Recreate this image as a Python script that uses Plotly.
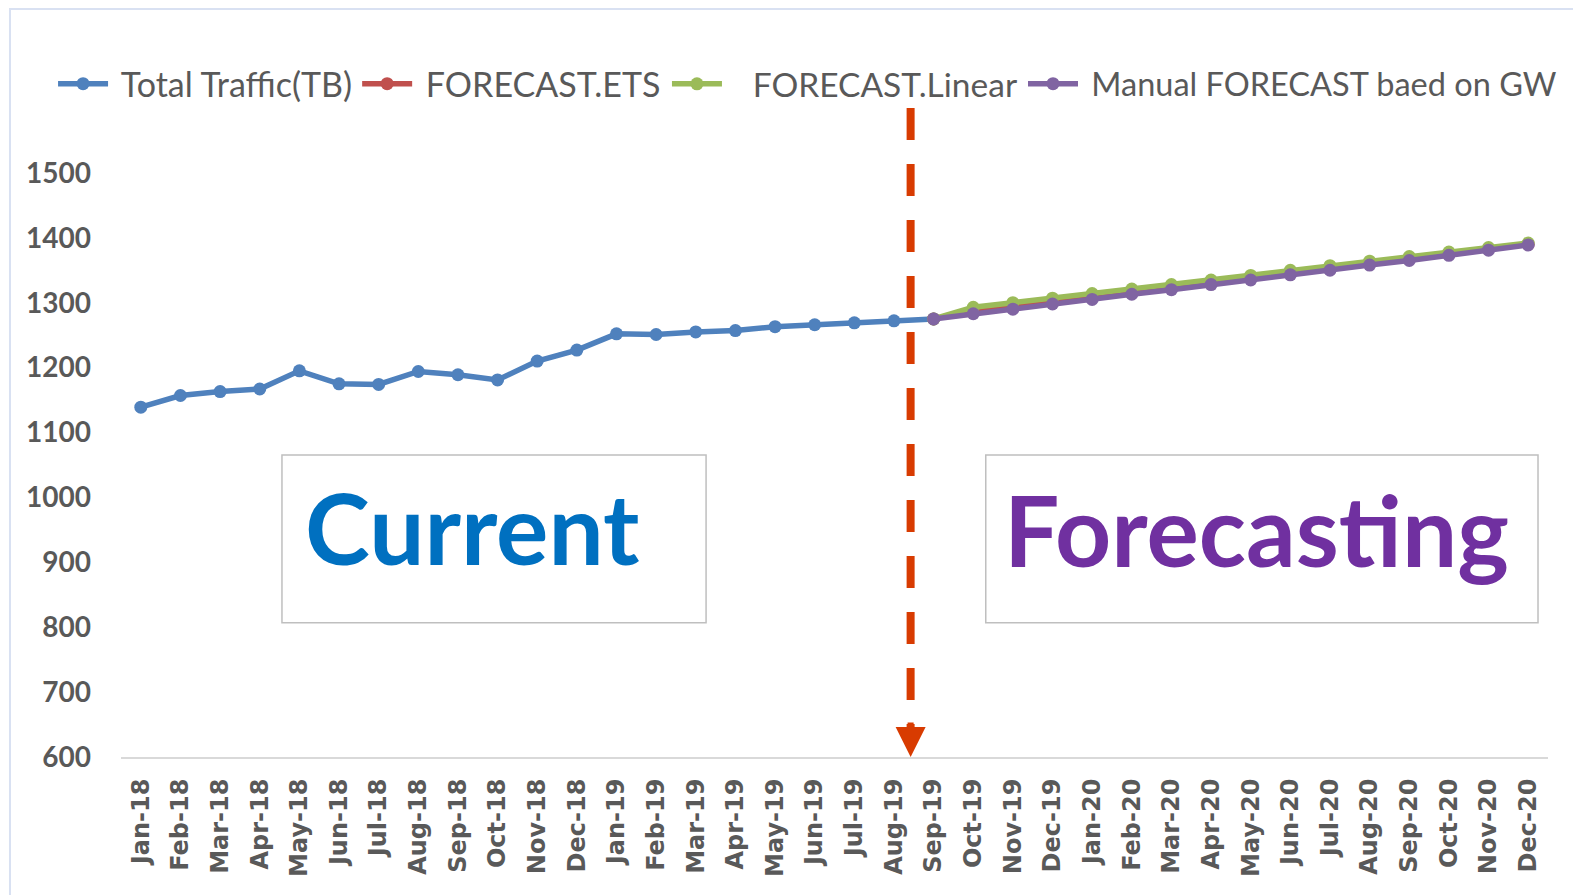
import plotly.graph_objects as go

months = ["Jan-18","Feb-18","Mar-18","Apr-18","May-18","Jun-18","Jul-18","Aug-18","Sep-18","Oct-18",
          "Nov-18","Dec-18","Jan-19","Feb-19","Mar-19","Apr-19","May-19","Jun-19","Jul-19","Aug-19",
          "Sep-19","Oct-19","Nov-19","Dec-19","Jan-20","Feb-20","Mar-20","Apr-20","May-20","Jun-20",
          "Jul-20","Aug-20","Sep-20","Oct-20","Nov-20","Dec-20"]

total_months = months[:21]
total_traffic = [1139, 1157, 1163, 1167, 1195, 1175, 1174, 1194, 1189, 1181,
                 1210, 1227, 1252, 1251, 1255, 1257, 1263, 1266, 1269, 1272, 1275]

fc_months = months[20:]
fc_ets = [1275, 1289, 1296, 1303, 1310, 1318, 1325, 1332, 1339, 1347, 1354, 1361, 1368, 1376, 1383, 1390]
fc_linear = [1275, 1293, 1300, 1307, 1314, 1321, 1328, 1335, 1342, 1350, 1357, 1364, 1371, 1378, 1385, 1392]
fc_manual = [1275, 1283, 1290, 1298, 1305, 1313, 1320, 1328, 1335, 1343, 1350, 1358, 1365, 1373, 1381, 1389]

y_ticks = [600, 700, 800, 900, 1000, 1100, 1200, 1300, 1400, 1500]

NB = "\u00a0"
fig = go.Figure()
series = [
    (NB + "Total Traffic(TB)", total_months, total_traffic, "#4F81BD", "legend"),
    (NB + "FORECAST.ETS", fc_months, fc_ets, "#C0504D", "legend"),
    (NB * 3 + "FORECAST.Linear", fc_months, fc_linear, "#9BBB59", "legend2"),
    (NB + "Manual FORECAST baed on GW", fc_months, fc_manual, "#8064A2", "legend3"),
]
for name, xs, ys, col, leg in series:
    fig.add_trace(go.Scatter(x=xs, y=ys, name=name, mode="lines+markers", legend=leg,
                             line=dict(color=col, width=5.5),
                             marker=dict(color=col, size=13)))

# divider line (between Aug-19 and Sep-19)
div_x = 19.42
fig.add_shape(type="line", xref="x", yref="y", x0=div_x, x1=div_x, y0=1600, y1=625,
              line=dict(color="#D83B01", width=8, dash="32px,24px"))
fig.add_annotation(x=div_x, y=600, xref="x", yref="y", ax=0, ay=-36, text="",
                   showarrow=True, arrowhead=2, arrowsize=1.0, arrowwidth=6, arrowcolor="#D83B01")

# text boxes
fig.add_shape(type="rect", xref="paper", yref="paper", x0=0.1128, x1=0.41, y0=0.2069, y1=0.4653,
              line=dict(color="#BFBFBF", width=1.5))
fig.add_shape(type="rect", xref="paper", yref="paper", x0=0.606, x1=0.993, y0=0.2069, y1=0.4653,
              line=dict(color="#BFBFBF", width=1.5))
fig.add_annotation(x=0.2463, y=0.354, xref="paper", yref="paper", text="<b>Current</b>",
                   xanchor="center", yanchor="middle",
                   showarrow=False, font=dict(family="Lato", size=98, color="#0070C0"))
fig.add_annotation(x=0.796, y=0.351, xref="paper", yref="paper", text="<b>Forecasting</b>",
                   xanchor="center", yanchor="middle",
                   showarrow=False, font=dict(family="Lato", size=98, color="#7030A0"))

# outer chart frame
fig.add_shape(type="rect", xref="paper", yref="paper", x0=-0.0778, x1=1.0196, y0=-0.3, y1=1.1525,
              line=dict(color="#D9E1F2", width=2))


def leg(x, size):
    return dict(x=x, orientation="h", xref="container", yref="container", y=0.915,
                xanchor="left", yanchor="middle", itemwidth=50,
                bgcolor="rgba(0,0,0,0)",
                font=dict(family="Lato", size=size, color="#595959"),
                tracegroupgap=0)


fig.update_layout(
    width=1581, height=895,
    margin=dict(l=113, r=41, t=100, b=146, autoexpand=False),
    paper_bgcolor="white", plot_bgcolor="white",
    showlegend=True,
    legend=leg(0.0285, 34),
    legend2=leg(0.4168, 33.5),
    legend3=leg(0.642, 32.5),
    xaxis=dict(type="category", categoryorder="array", categoryarray=months,
               range=[-0.5, 35.5], showgrid=False, zeroline=False,
               showline=True, linecolor="#D9D9D9", linewidth=2,
               tickangle=-90, ticklabelstandoff=10,
               tickfont=dict(family="DejaVu Sans", size=24, color="#595959", weight="bold")),
    yaxis=dict(range=[600, 1600], tickvals=y_ticks, showgrid=False, zeroline=False,
               showline=False, ticklabelstandoff=29,
               tickfont=dict(family="Lato", size=28, color="#595959", weight="bold")),
)

fig.write_html("out.html")
